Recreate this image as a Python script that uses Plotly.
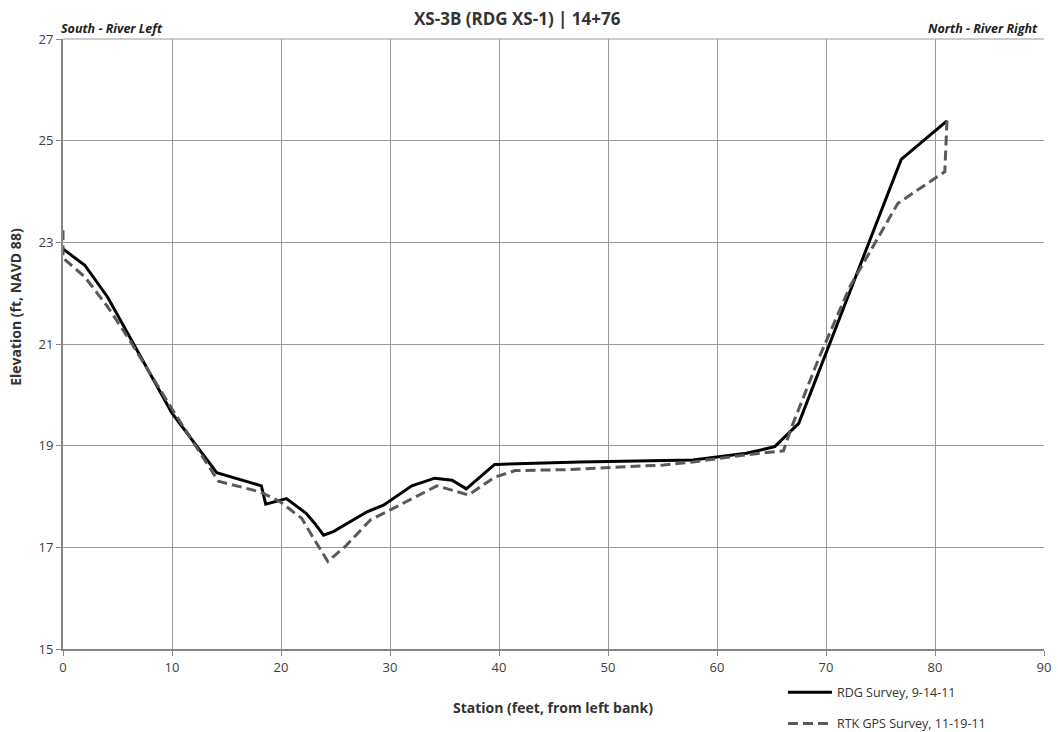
import plotly.graph_objects as go

rdg_station = [0, 2.0, 4.1, 10.0, 14.1, 18.2, 18.6, 20.5, 22.3, 23.1, 23.9, 24.8, 27.9, 29.4,
               32.0, 34.1, 35.7, 37.0, 39.6, 47.4, 57.8, 62.7, 65.3, 67.5, 76.9, 81.1]
rdg_elev = [22.87, 22.55, 21.92, 19.64, 18.47, 18.21, 17.85, 17.96, 17.67, 17.47, 17.24, 17.31, 17.70, 17.83,
            18.21, 18.36, 18.32, 18.15, 18.63, 18.68, 18.72, 18.85, 18.98, 19.44, 24.63, 25.39]

rtk_station = [0, 0, 2.0, 4.1, 6.1, 10.0, 14.25, 18.1, 19.9, 21.9, 22.7, 24.3, 26.0, 28.2, 29.7,
               34.3, 37.2, 39.6, 41.5, 46.5, 55.1, 57.8, 62.7, 66.1, 66.8, 69.4, 72.2, 74.5, 76.6, 80.9, 81.1]
rtk_elev = [23.24, 22.69, 22.32, 21.73, 21.08, 19.72, 18.30, 18.09, 17.90, 17.57, 17.28, 16.72, 17.04, 17.54, 17.70,
            18.21, 18.03, 18.38, 18.51, 18.53, 18.62, 18.68, 18.82, 18.90, 19.34, 20.75, 22.13, 22.98, 23.77, 24.39, 25.41]

x_ticks = [0, 10, 20, 30, 40, 50, 60, 70, 80, 90]
y_ticks = [15, 17, 19, 21, 23, 25, 27]

font_family = "Open Sans, Liberation Sans, sans-serif"

fig = go.Figure()
fig.add_trace(go.Scatter(x=rdg_station, y=rdg_elev, mode="lines", name="RDG Survey, 9-14-11",
                         legendgroup="a", line=dict(color="#000000", width=3)))
fig.add_trace(go.Scatter(x=rtk_station, y=rtk_elev, mode="lines", name="RTK GPS Survey, 11-19-11",
                         legendgroup="b", line=dict(color="#595959", width=3, dash="10px,5px")))

fig.update_layout(
    width=1058, height=732,
    margin=dict(l=63, r=14, t=39, b=83, autoexpand=False),
    paper_bgcolor="white", plot_bgcolor="white",
    font=dict(family=font_family, color="#404040", size=13),
    xaxis=dict(range=[0, 90], tickvals=x_ticks, showgrid=True, gridcolor="#999999", gridwidth=1,
               showline=True, linecolor="#868686", linewidth=2, ticks="outside", ticklen=5, tickcolor="#868686",
               zeroline=False, tickfont=dict(size=13, color="#404040"), automargin=False),
    yaxis=dict(range=[15, 27], tickvals=y_ticks, showgrid=True, gridcolor="#999999", gridwidth=1,
               showline=True, linecolor="#868686", linewidth=2, ticks="outside", ticklen=5, tickcolor="#868686",
               zeroline=False, tickfont=dict(size=13, color="#404040"), automargin=False),
    legend=dict(x=0.7339, y=-0.047, xanchor="left", yanchor="top", traceorder="grouped", tracegroupgap=12,
                font=dict(size=12.5, color="#333333"), bgcolor="rgba(0,0,0,0)", itemwidth=44),
    showlegend=True,
)
fig.add_shape(type="line", xref="paper", yref="paper", x0=0, x1=1, y0=1, y1=1,
              line=dict(color="#999999", width=1))
fig.add_annotation(text="<b>XS-3B (RDG XS-1) | 14+76</b>", xref="paper", yref="paper", x=0.4628, y=1.0328,
                   xanchor="center", yanchor="middle", showarrow=False, font=dict(size=17, color="#333333"))
fig.add_annotation(text="<b>Station (feet, from left bank)</b>", xref="paper", yref="paper", x=0.4995, y=-0.0954,
                   xanchor="center", yanchor="middle", showarrow=False, font=dict(size=14, color="#333333"))
fig.add_annotation(text="<b>Elevation (ft, NAVD 88)</b>", xref="paper", yref="paper", x=-0.0479, y=0.561,
                   xanchor="center", yanchor="middle", textangle=-90, showarrow=False,
                   font=dict(size=14, color="#333333"))
fig.add_annotation(text="<b><i>South - River Left</i></b>", xref="paper", yref="paper", x=0, y=1, xshift=-4,
                   xanchor="left", yanchor="bottom", showarrow=False, font=dict(size=12.5, color="#222222"))
fig.add_annotation(text="<b><i>North - River Right</i></b>", xref="paper", yref="paper", x=0.996, y=1, xshift=0,
                   xanchor="right", yanchor="bottom", showarrow=False, font=dict(size=12.5, color="#222222"))

fig.write_html("out.html")
